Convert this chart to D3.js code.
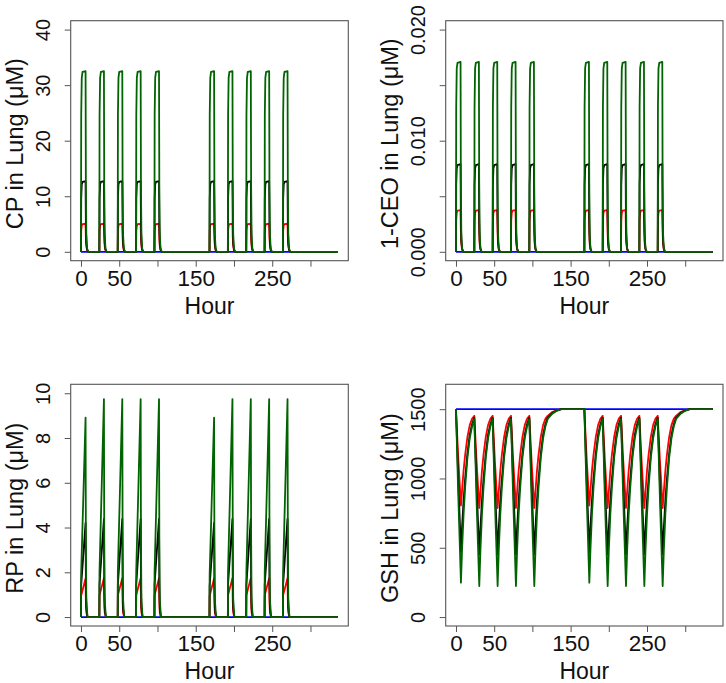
<!DOCTYPE html>
<html>
<head>
<meta charset="utf-8">
<script src="https://cdn.jsdelivr.net/npm/d3@7"></script>
<style>
  body { margin: 0; background: #fff; }
  svg { display: block; font-family: "Liberation Sans", Arial, sans-serif; }
</style>
</head>
<body>
<svg id="chart" width="726" height="683"></svg>
<script>
/// Dosing schedule (hours) and time span
const doseStarts = [0, 24, 48, 72, 96, 168, 192, 216, 240, 264];
const weekFirstDoses = [0, 168];
const weekLastDoses = [96, 264];
const endHour = 336;

// x axis ticks
const xTickValues = [0, 50, 100, 150, 200, 250, 300];
const xTickLabels = ["0", "50", "", "150", "", "250", ""];

// Series (dose groups), drawn in this order
const seriesNames = ["control", "low", "mid", "high"];
const seriesColors = ["#0000ff", "#ff0000", "#000000", "#006400"];

// CP in lung: one exposure pulse, [hours after dose start, uM]
const cpLow  = [[0, 0], [0.3, 3.8], [1, 4.7], [2, 5.0], [6, 5.05], [6.4, 2.6], [7, 1.0], [8, 0.3], [9.5, 0]];
const cpMid  = [[0, 0], [0.3, 9.6], [1, 12.1], [2, 12.6], [6, 12.7], [6.4, 5.0], [7, 1.6], [8, 0.4], [9.5, 0]];
const cpHigh = [[0, 0], [0.3, 24.5], [1, 31.3], [2, 32.4], [6, 32.5], [6.4, 12.0], [7, 3.2], [8, 0.6], [9.5, 0]];
const cpTicks = [0, 10, 20, 30, 40];
const cpTickLabels = ["0", "10", "20", "30", "40"];

// 1-CEO in lung: one exposure pulse
const ceoLow  = [[0, 0], [0.3, 0.0028], [1, 0.0035], [2, 0.0037], [6, 0.00375], [6.4, 0.0018], [7, 0.0007], [8, 0.0002], [9.5, 0]];
const ceoMid  = [[0, 0], [0.3, 0.0060], [1, 0.0075], [2, 0.0078], [6, 0.0079], [6.4, 0.0031], [7, 0.0010], [8, 0.0003], [9.5, 0]];
const ceoHigh = [[0, 0], [0.3, 0.0129], [1, 0.0165], [2, 0.0170], [6, 0.0171], [6.4, 0.0063], [7, 0.0017], [8, 0.0003], [9.5, 0]];
const ceoTicks = [0, 0.005, 0.010, 0.015, 0.020];
const ceoTickLabels = ["0.000", "", "0.010", "", "0.020"];

// RP in lung: first pulse of a week and the following ones
const rpLowFirst   = [[0, 0], [0.2, 0.95], [6, 1.72], [6.4, 0.7], [7, 0.2], [8.5, 0]];
const rpLowRepeat  = [[0, 0], [0.2, 0.97], [6, 1.74], [6.4, 0.7], [7, 0.2], [8.5, 0]];
const rpMidFirst   = [[0, 0], [0.2, 1.4], [6, 4.21], [6.4, 1.6], [7, 0.4], [8.5, 0]];
const rpMidRepeat  = [[0, 0], [0.2, 1.45], [6, 4.39], [6.4, 1.6], [7, 0.4], [8.5, 0]];
const rpHighFirst  = [[0, 0], [0.2, 1.9], [6, 8.91], [6.4, 3.4], [7, 0.8], [8.5, 0]];
const rpHighRepeat = [[0, 0], [0.2, 2.0], [6, 9.74], [6.4, 3.6], [7, 0.8], [8.5, 0]];
const rpTicks = [0, 2, 4, 6, 8, 10];
const rpTickLabels = ["0", "2", "4", "6", "8", "10"];

// GSH in lung: 24 h cycles (first of week starts from baseline) plus washout after the last dose
const gshBaseline = 1500;
const gshLowFirst   = [[0, 1500], [3, 1150], [6.5, 805], [8, 915], [10, 1060], [12, 1170], [15, 1300], [18, 1385], [21, 1430], [24, 1452]];
const gshLowRepeat  = [[0, 1452], [3, 1120], [6.5, 787], [8, 905], [10, 1055], [12, 1168], [15, 1300], [18, 1385], [21, 1430], [24, 1452]];
const gshLowTail    = [[30, 1480], [36, 1494], [42, 1500]];
const gshMidFirst   = [[0, 1500], [3, 990], [6.5, 470], [8, 650], [10, 845], [12, 995], [15, 1180], [18, 1315], [21, 1390], [24, 1437]];
const gshMidRepeat  = [[0, 1437], [3, 945], [6.5, 452], [8, 640], [10, 840], [12, 990], [15, 1180], [18, 1315], [21, 1390], [24, 1437]];
const gshMidTail    = [[30, 1472], [36, 1490], [42, 1500]];
const gshHighFirst  = [[0, 1500], [3, 880], [6.5, 248], [8, 490], [10, 745], [12, 935], [15, 1150], [18, 1290], [21, 1375], [24, 1430]];
const gshHighRepeat = [[0, 1430], [3, 830], [6.5, 224], [8, 480], [10, 740], [12, 930], [15, 1150], [18, 1290], [21, 1375], [24, 1430]];
const gshHighTail   = [[30, 1468], [36, 1489], [42, 1500]];
const gshTicks = [0, 500, 1000, 1500];
const gshTickLabels = ["0", "500", "1000", "1500"];

// Put the pulse profiles on the dosing schedule
function buildSeries(first, repeat, tail, baseline) {
    let pts = [[0, baseline]];
    doseStarts.forEach((d) => {
        let profile = weekFirstDoses.includes(d) ? first : repeat;
        profile.forEach(([t, v]) => pts.push([d + t, v]));
        if (weekLastDoses.includes(d) && tail) {
            tail.forEach(([t, v]) => pts.push([d + t, v]));
        }
    });
    pts.push([endHour, baseline]);
    return pts;
}

const panels = [
    {
        title: "CP in Lung (\u03bcM)", ylim: [0, 40], ticks: cpTicks, tickLabels: cpTickLabels,
        box: { left: 70.7, right: 348.3, top: 20.7, bottom: 260.7 },
        series: [
            [[0, 0], [endHour, 0]],
            buildSeries(cpLow, cpLow, null, 0),
            buildSeries(cpMid, cpMid, null, 0),
            buildSeries(cpHigh, cpHigh, null, 0)
        ]
    },
    {
        title: "1-CEO in Lung (\u03bcM)", ylim: [0, 0.02], ticks: ceoTicks, tickLabels: ceoTickLabels,
        box: { left: 445.7, right: 723, top: 20.7, bottom: 260.7 },
        series: [
            [[0, 0], [endHour, 0]],
            buildSeries(ceoLow, ceoLow, null, 0),
            buildSeries(ceoMid, ceoMid, null, 0),
            buildSeries(ceoHigh, ceoHigh, null, 0)
        ]
    },
    {
        title: "RP in Lung (\u03bcM)", ylim: [0, 10], ticks: rpTicks, tickLabels: rpTickLabels,
        box: { left: 70.7, right: 348.3, top: 384.3, bottom: 626 },
        series: [
            [[0, 0], [endHour, 0]],
            buildSeries(rpLowFirst, rpLowRepeat, null, 0),
            buildSeries(rpMidFirst, rpMidRepeat, null, 0),
            buildSeries(rpHighFirst, rpHighRepeat, null, 0)
        ]
    },
    {
        title: "GSH in Lung (\u03bcM)", ylim: [0, 1615], ticks: gshTicks, tickLabels: gshTickLabels,
        box: { left: 445.7, right: 723, top: 384.3, bottom: 626 },
        series: [
            [[0, gshBaseline], [endHour, gshBaseline]],
            buildSeries(gshLowFirst, gshLowRepeat, gshLowTail, gshBaseline),
            buildSeries(gshMidFirst, gshMidRepeat, gshMidTail, gshBaseline),
            buildSeries(gshHighFirst, gshHighRepeat, gshHighTail, gshBaseline)
        ]
    }
];

const svg = d3.select("#chart");

// R style: 4% padding on each side of the limits
function padded(lo, hi) {
    let p = (hi - lo) * 0.04;
    return [lo - p, hi + p];
}

panels.forEach((panel) => {
    const b = panel.box;
    const x = d3.scaleLinear().domain(padded(0, endHour)).range([b.left, b.right]);
    const y = d3.scaleLinear().domain(padded(panel.ylim[0], panel.ylim[1])).range([b.bottom, b.top]);
    const g = svg.append("g");

    // lines
    const line = d3.line().x((d) => x(d[0])).y((d) => y(d[1]));
    panel.series.forEach((pts, idx) => {
        g.append("path")
            .attr("d", line(pts))
            .attr("fill", "none")
            .attr("stroke", seriesColors[idx])
            .attr("stroke-width", 1.8)
            .attr("stroke-linejoin", "round")
            .attr("class", seriesNames[idx]);
    });

    // box
    g.append("rect")
        .attr("x", b.left).attr("y", b.top)
        .attr("width", b.right - b.left).attr("height", b.bottom - b.top)
        .attr("fill", "none").attr("stroke", "#555").attr("stroke-width", 1.1);

    // x axis
    const xAxis = g.append("g")
        .attr("transform", `translate(0,${b.bottom})`)
        .call(d3.axisBottom(x).tickValues(xTickValues).tickSize(6)
            .tickFormat((d, i) => xTickLabels[i]));
    xAxis.select(".domain").remove();
    xAxis.selectAll("line").attr("stroke", "#555");
    xAxis.selectAll("text")
        .attr("y", 25).attr("dy", null)
        .attr("font-size", 22.5).attr("fill", "#111");

    // y axis
    const yAxis = g.append("g")
        .attr("transform", `translate(${b.left},0)`)
        .call(d3.axisLeft(y).tickValues(panel.ticks).tickSize(6)
            .tickFormat((d, i) => panel.tickLabels[i]));
    yAxis.select(".domain").remove();
    yAxis.selectAll("line").attr("stroke", "#555");
    yAxis.selectAll("text")
        .attr("x", 0).attr("dy", null)
        .attr("text-anchor", "middle")
        .attr("transform", "translate(-20.5,0) rotate(-90)")
        .attr("font-size", 20).attr("fill", "#111");

    // axis titles
    g.append("text")
        .attr("x", (b.left + b.right) / 2)
        .attr("y", b.bottom + 53)
        .attr("text-anchor", "middle")
        .attr("font-size", 23).attr("fill", "#111")
        .text("Hour");
    g.append("text")
        .attr("transform", `translate(${b.left - 48},${(b.top + b.bottom) / 2 + 3}) rotate(-90)`)
        .attr("text-anchor", "middle")
        .attr("font-size", 23.5).attr("fill", "#111")
        .text(panel.title);
});
</script>
</body>
</html>
